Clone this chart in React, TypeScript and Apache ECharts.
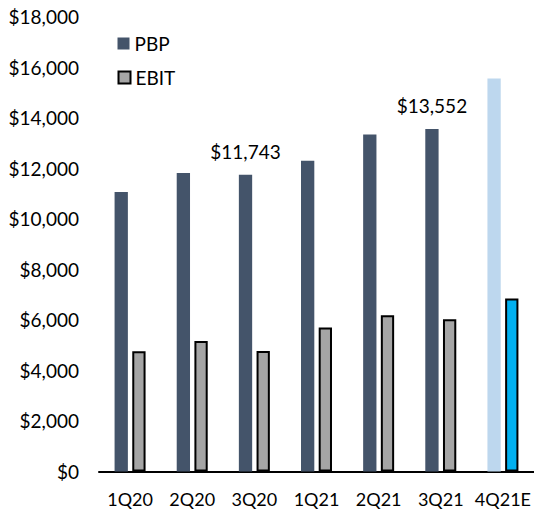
import React, { useEffect, useRef } from "react";
import * as echarts from "echarts";

const categories = ["1Q20", "2Q20", "3Q20", "1Q21", "2Q21", "3Q21", "4Q21E"];
const pbpValues = [11060, 11810, 11743, 12290, 13330, 13552, 15550];
const ebitValues = [4760, 5160, 4770, 5700, 6180, 6020, 6840];
const labeledPbp = [2, 5];
const estimateIndex = 6;

const FONT = "Lato";
const FS = 19;

const fmt = (v: number) => "$" + v.toLocaleString("en-US");

export default function App() {
  const ref = useRef<HTMLDivElement>(null);
  useEffect(() => {
    if (!ref.current) return;
    const chart = echarts.init(ref.current, undefined, { renderer: "svg" });
    chart.setOption({
      animation: false,
      backgroundColor: "#ffffff",
      textStyle: { fontFamily: FONT, fontSize: FS, color: "#000" },
      grid: { left: 99, right: -3, top: 16.5, bottom: 38.5, containLabel: false },
      legend: [
        {
          data: ["PBP"],
          orient: "vertical",
          left: 112.5,
          top: 29,
          itemWidth: 12,
          itemHeight: 12,
          itemGap: 5,
          icon: "rect",
          textStyle: { fontFamily: FONT, fontSize: FS, color: "#000" },
        },
        {
          data: ["EBIT"],
          orient: "vertical",
          left: 112.5,
          top: 63,
          itemWidth: 12,
          itemHeight: 12,
          itemGap: 5,
          icon: "rect",
          textStyle: { fontFamily: FONT, fontSize: FS, color: "#000" },
        },
      ],
      xAxis: {
        type: "category",
        data: categories,
        axisLine: { show: true, lineStyle: { color: "#000", width: 2 } },
        axisTick: { show: false },
        axisLabel: {
          interval: 0,
          margin: 19,
          lineHeight: 16,
          fontFamily: FONT,
          fontSize: 18,
          color: "#000",
        },
      },
      yAxis: {
        type: "value",
        min: 0,
        max: 18000,
        interval: 2000,
        axisLine: { show: false },
        axisTick: { show: false },
        splitLine: { show: false },
        axisLabel: {
          margin: 20,
          fontFamily: FONT,
          fontSize: FS,
          color: "#000",
          formatter: (v: number) => fmt(v),
        },
      },
      series: [
        {
          name: "PBP",
          type: "bar",
          barWidth: 13.3,
          barGap: "33%",
          itemStyle: { color: "#44546A" },
          label: {
            show: false,
            position: "top",
            distance: 14,
            fontFamily: FONT,
            fontSize: FS,
            color: "#000",
            formatter: (p: any) => fmt(p.value),
          },
          data: pbpValues.map((v, i) => ({
            value: v,
            label: { show: labeledPbp.includes(i) },
            itemStyle: i === estimateIndex ? { color: "#BDD7EE" } : undefined,
          })),
        },
        {
          name: "EBIT",
          type: "bar",
          barWidth: 13.3,
          itemStyle: { color: "#A5A5A5", borderColor: "#000", borderWidth: 2 },
          data: ebitValues.map((v, i) => ({
            value: v,
            itemStyle:
              i === estimateIndex
                ? { color: "#00B0F0", borderColor: "#000", borderWidth: 2 }
                : undefined,
          })),
        },
      ],
    });
    return () => chart.dispose();
  }, []);
  return (
    <div
      ref={ref}
      style={{ position: "absolute", left: 0, top: 0, width: 534, height: 510 }}
    />
  );
}
